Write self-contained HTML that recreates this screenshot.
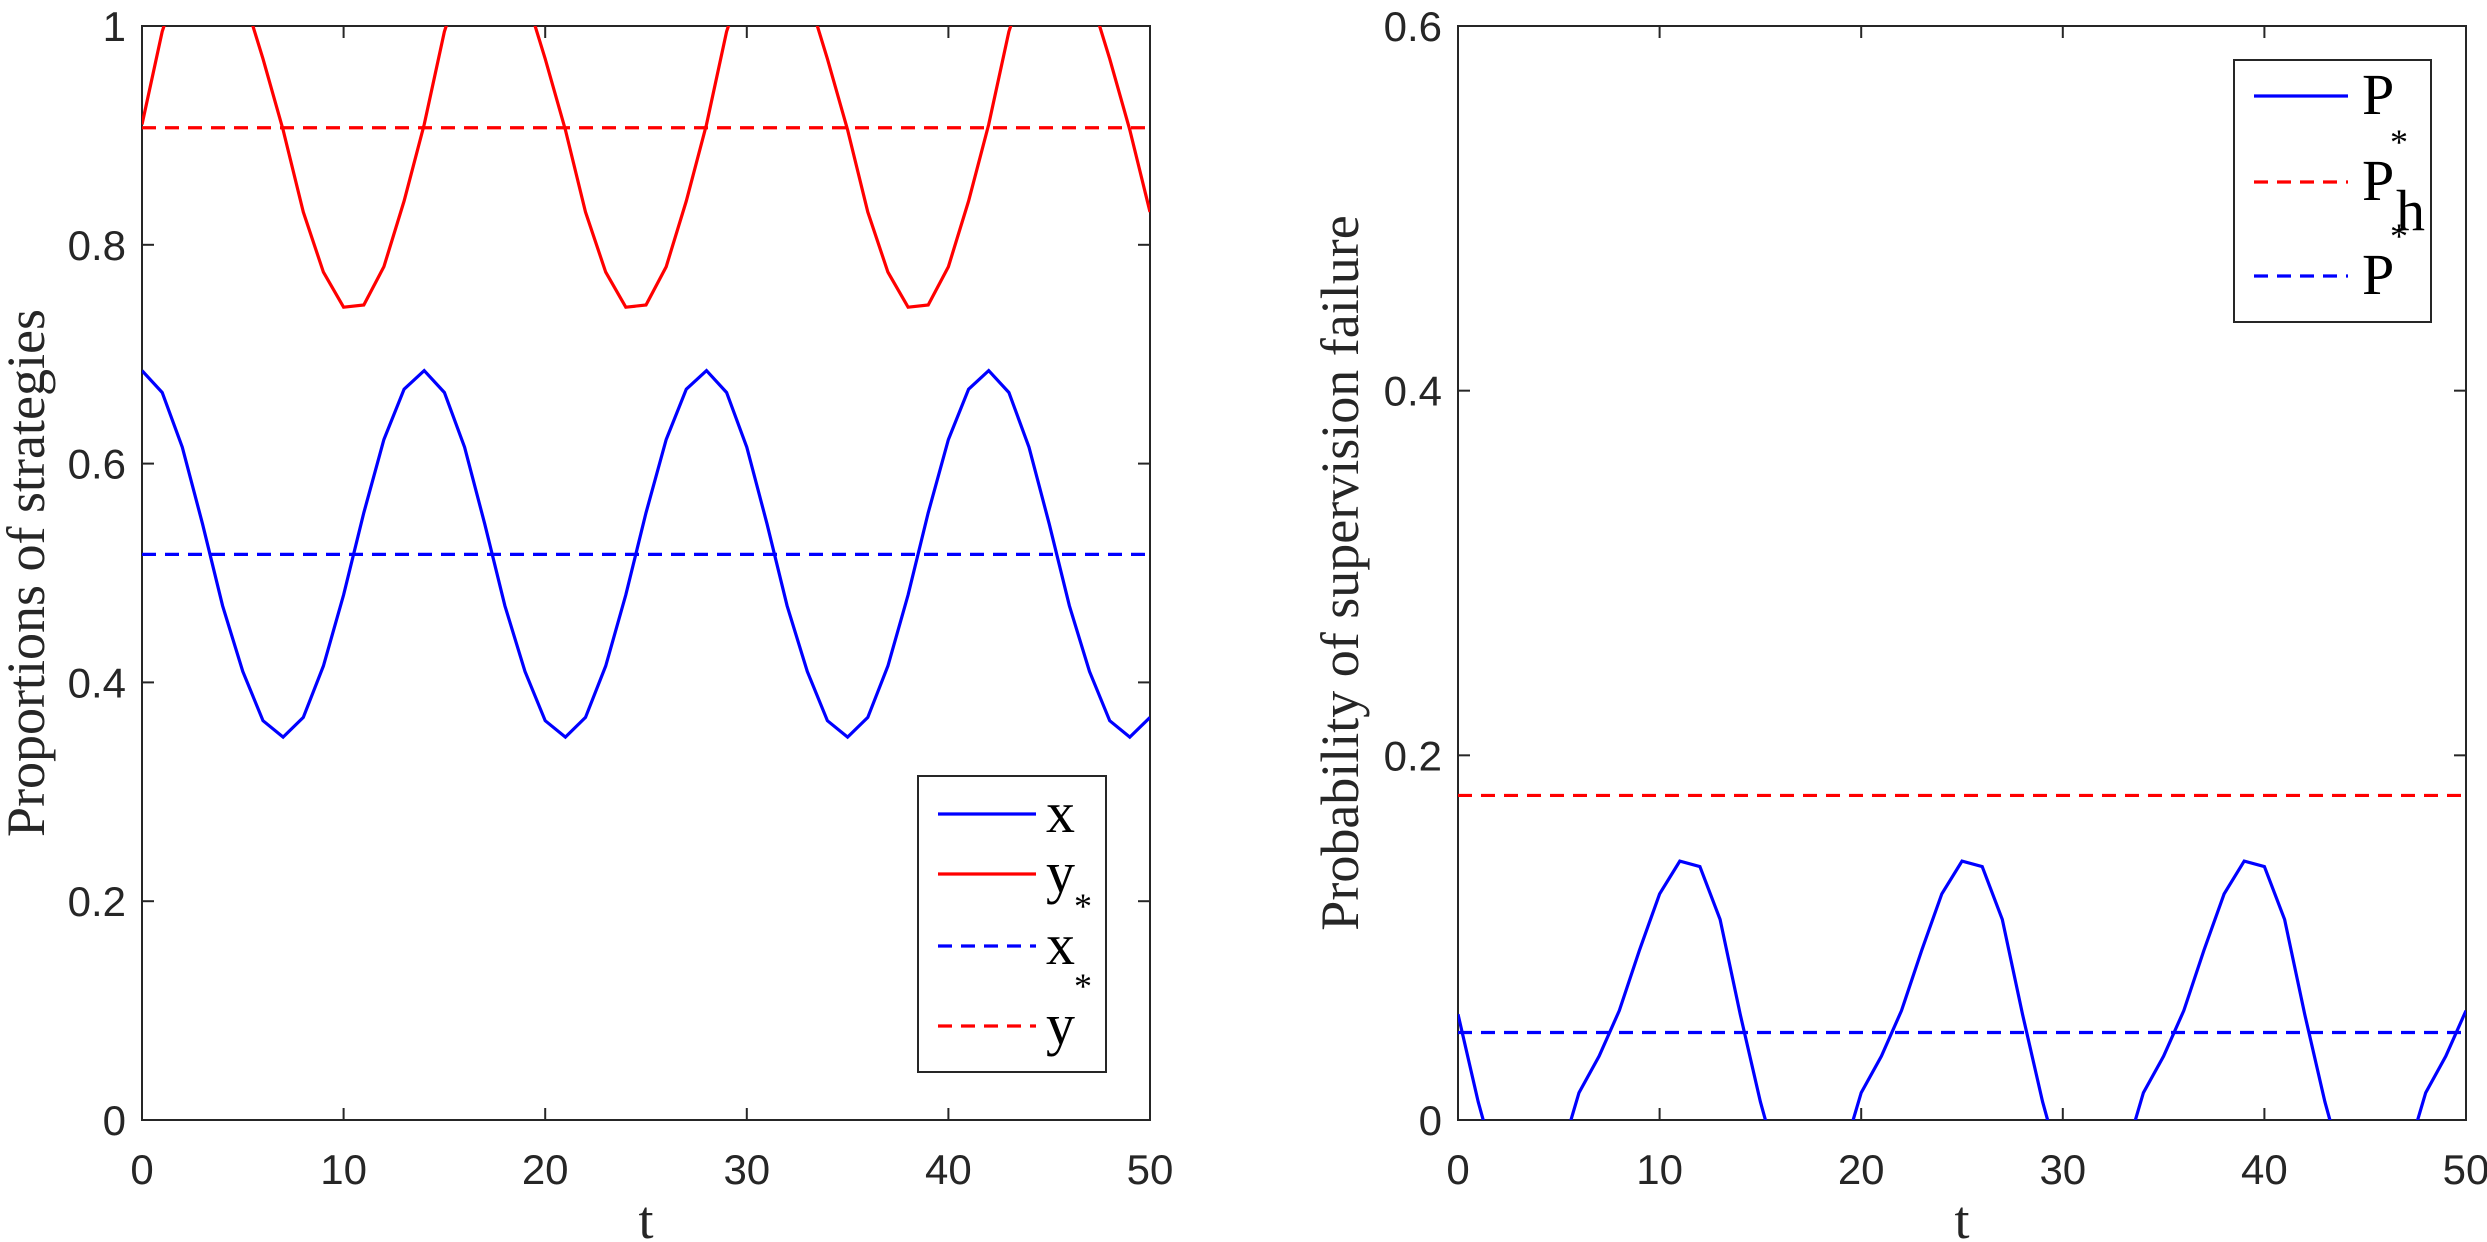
<!DOCTYPE html>
<html><head><meta charset="utf-8"><style>
body{margin:0;background:#fff}
svg{display:block}
.tk{font-family:"Liberation Sans",sans-serif;font-size:42px;fill:#262626}
.lab{font-family:"Liberation Serif",serif;font-size:54px;fill:#262626}
.lg{font-family:"Liberation Serif",serif;font-size:58px;fill:#000}
.sup{font-family:"Liberation Serif",serif;font-size:36px;fill:#000}
</style></head><body>
<svg id="c" width="2487" height="1242" viewBox="0 0 2487 1242"></svg>
<script>
const tVals=[0,1,2,3,4,5,6,7,8,9,10,11,12,13,14,15,16,17,18,19,20,21,22,23,24,25,26,27,28,29,30,31,32,33,34,35,36,37,38,39,40,41,42,43,44,45,46,47,48,49,50];
const xCycle=[0.685,0.665,0.615,0.545,0.47,0.41,0.365,0.35,0.368,0.415,0.48,0.555,0.622,0.668];
const yCycle=[0.91,0.995,1.05,1.08,1.07,1.03,0.97,0.905,0.83,0.775,0.743,0.745,0.78,0.84];
const pCycle=[0.058,0.01,-0.03,-0.05,-0.045,-0.0225,0.015,0.035,0.06,0.093,0.124,0.142,0.139,0.11];
const xSeries=tVals.map(t=>xCycle[t%14]);
const ySeries=tVals.map(t=>yCycle[t%14]);
const pSeries=tVals.map(t=>pCycle[t%14]);
const xStar=0.517, yStar=0.907, phStar=0.178, pStar=0.048;
const xTicks=[0,10,20,30,40,50];
const yTicksL=[0,0.2,0.4,0.6,0.8,1];
const yTickLabelsL=["0","0.2","0.4","0.6","0.8","1"];
const yTicksR=[0,0.2,0.4,0.6];
const yTickLabelsR=["0","0.2","0.4","0.6"];

const svg=document.getElementById('c');
const NS='http://www.w3.org/2000/svg';
function mk(tag,attrs,parent){const e=document.createElementNS(NS,tag);for(const k in attrs)e.setAttribute(k,attrs[k]);(parent||svg).appendChild(e);return e;}

function axes(id,L,R,T,B,ymax,yTicks,yLabels,ylabel,labX){
  const sx=v=>L+(v-0)/50*(R-L);
  const sy=v=>B-v/ymax*(B-T);
  const g=mk('g',{});
  
  
  const cp=mk('clipPath',{id:id+'clip'},g);mk('rect',{x:L,y:T,width:R-L,height:B-T},cp);
  mk('rect',{x:L,y:T,width:R-L,height:B-T,fill:'#fff',stroke:'#262626','stroke-width':2},g);
  xTicks.forEach(v=>{
    mk('line',{x1:sx(v),x2:sx(v),y1:B,y2:B-12,stroke:'#262626','stroke-width':2},g);
    mk('line',{x1:sx(v),x2:sx(v),y1:T,y2:T+12,stroke:'#262626','stroke-width':2},g);
    const tx=mk('text',{x:sx(v),y:B+64,'text-anchor':'middle',class:'tk'},g);tx.textContent=v;
    
    
  });
  yTicks.forEach((v,i)=>{
    mk('line',{x1:L,x2:L+12,y1:sy(v),y2:sy(v),stroke:'#262626','stroke-width':2},g);
    mk('line',{x1:R,x2:R-12,y1:sy(v),y2:sy(v),stroke:'#262626','stroke-width':2},g);
    const tx=mk('text',{x:L-16,y:sy(v)+15,'text-anchor':'end',class:'tk'},g);tx.textContent=yLabels[i];
    
    
  });
  const xl=mk('text',{x:(L+R)/2,y:1238,'text-anchor':'middle',class:'lab'},g);xl.textContent='t';
  
  
  const yl=mk('text',{x:0,y:0,'text-anchor':'middle',class:'lab',transform:`translate(${labX},${(T+B)/2}) rotate(-90)`},g);yl.textContent=ylabel;
  
  
  return {sx,sy,g,clip:`url(#${id}clip)`};
}
function line(ax,vals,color,dash,name){
  const d=tVals.map((t,i)=>(i?'L':'M')+ax.sx(t).toFixed(1)+','+ax.sy(vals[i]).toFixed(1)).join('');
  const p=mk('path',{d,fill:'none',stroke:color,'stroke-width':3.2,'clip-path':ax.clip,'stroke-dasharray':dash||'none'},ax.g);
  
  
}
function hline(ax,v,color,name){
  const p=mk('line',{x1:ax.sx(0),x2:ax.sx(50),y1:ax.sy(v),y2:ax.sy(v),stroke:color,'stroke-width':3.2,'stroke-dasharray':'14,9'},ax.g);
  
  
}
function legend(g,x,y,w,h,name){
  const r=mk('rect',{x,y,width:w,height:h,fill:'#fff',stroke:'#262626','stroke-width':2},g);
  
  
}
function lgEntry(g,x1,x2,y,color,dash,tx,label,sup,sub,name){
  const e=mk('g',{},g);
  
  
  mk('line',{x1,x2,y1:y,y2:y,stroke:color,'stroke-width':3.2,'stroke-dasharray':dash?'14,9':'none'},e);
  const t=mk('text',{x:tx,y:y+18,class:'lg'},e);t.textContent=label;
  if(sup){const s=mk('text',{x:tx+28,y:y-28,class:'sup'},e);s.textContent='*';}
  if(sub){const s=mk('text',{x:tx+34,y:y+48,class:'lg','font-size':'44'},e);s.textContent=sub;}
}

const A=axes('left',142,1150,26,1120,1,yTicksL,yTickLabelsL,'Proportions of strategies',44);
hline(A,yStar,'#ff0000','y-star-line');
hline(A,xStar,'#0000ff','x-star-line');
line(A,ySeries,'#ff0000',null,'y-line');
line(A,xSeries,'#0000ff',null,'x-line');
legend(A.g,918,776,188,296,'left-legend');
lgEntry(A.g,938,1036,814,'#0000ff',false,1046,'x',false,null,'legend-entry-x');
lgEntry(A.g,938,1036,874,'#ff0000',false,1046,'y',false,null,'legend-entry-y');
lgEntry(A.g,938,1036,946,'#0000ff',true,1046,'x',true,null,'legend-entry-x-star');
lgEntry(A.g,938,1036,1026,'#ff0000',true,1046,'y',true,null,'legend-entry-y-star');

const B=axes('right',1458,2466,26,1120,0.6,yTicksR,yTickLabelsR,'Probability of supervision failure',1358);
hline(B,phStar,'#ff0000','ph-star-line');
hline(B,pStar,'#0000ff','p-star-line');
line(B,pSeries,'#0000ff',null,'p-line');
legend(B.g,2234,60,197,262,'right-legend');
lgEntry(B.g,2254,2348,96,'#0000ff',false,2362,'P',false,null,'legend-entry-p');
lgEntry(B.g,2254,2348,182,'#ff0000',true,2362,'P',true,'h','legend-entry-ph-star');
lgEntry(B.g,2254,2348,276,'#0000ff',true,2362,'P',true,null,'legend-entry-p-star');
</script>
</body></html>
